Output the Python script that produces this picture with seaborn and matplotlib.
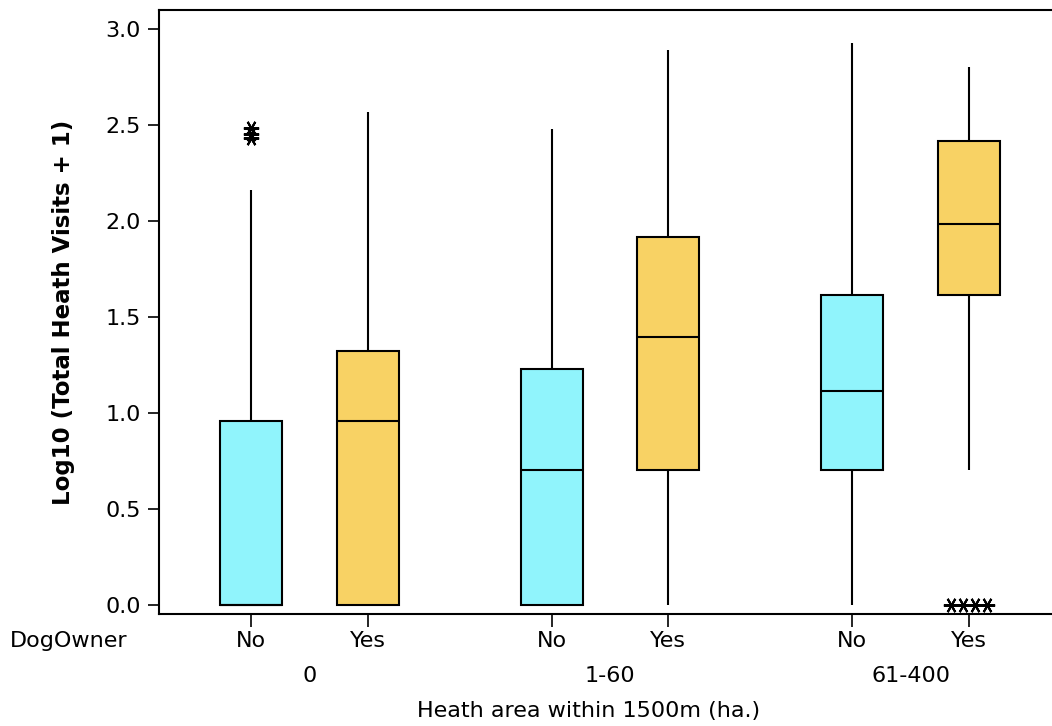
import numpy as np
import pandas as pd
import matplotlib
matplotlib.use("Agg")
import matplotlib.pyplot as plt
import seaborn as sns

# ---- data ----
areas = ["0", "1-60", "61-400"]
owners = ["No", "Yes"]
# order of boxes: (0,No), (0,Yes), (1-60,No), (1-60,Yes), (61-400,No), (61-400,Yes)
whisker_low = [0.0, 0.0, 0.0, 0.0, 0.0, 0.703]
q1_vals = [0.0, 0.0, 0.0, 0.703, 0.703, 1.616]
median_vals = [0.0, 0.958, 0.703, 1.396, 1.115, 1.984]
q3_vals = [0.958, 1.323, 1.231, 1.917, 1.616, 2.418]
whisker_high = [2.161, 2.568, 2.479, 2.890, 2.927, 2.800]
outliers_high = [[2.43, 2.455, 2.484], [], [], [], [], []]
outliers_low = [[], [], [], [], [], [0.0, 0.0, 0.0, 0.0]]
yticks = [0.0, 0.5, 1.0, 1.5, 2.0, 2.5, 3.0]

CYAN = "#90F4FC"
YELLOW = "#F8D264"


def observations(lo, a, m, b, hi, fl, fh):
    """Sample of 41 observations whose quartiles / whiskers / outliers equal the read statistics."""
    n_lo = 5 - len(fl)
    n_hi = 6 - len(fh)
    return list(fl) + [lo] * n_lo + [a] * 10 + [m] * 10 + [b] * 10 + [hi] * n_hi + list(fh)


rows = []
k = 0
for area in areas:
    for owner in owners:
        vals = observations(whisker_low[k], q1_vals[k], median_vals[k], q3_vals[k],
                            whisker_high[k], outliers_low[k], outliers_high[k])
        rows += [(area, owner, v) for v in vals]
        k += 1
df = pd.DataFrame(rows, columns=["area", "owner", "value"])

sns.set_style("ticks")
plt.rcParams["font.family"] = ["DejaVu Sans"]
plt.rcParams["font.size"] = 16
plt.rcParams["text.color"] = "black"
plt.rcParams["axes.labelcolor"] = "black"
plt.rcParams["xtick.color"] = "black"
plt.rcParams["ytick.color"] = "black"

fig = plt.figure(figsize=(10.52, 7.26), dpi=100)
ax = fig.add_axes([159 / 1052, (726 - 614) / 726, 902 / 1052, 604 / 726])

WIDTH = 0.778
GAP = 0.47
sns.boxplot(data=df, x="area", y="value", hue="owner", order=areas, hue_order=owners,
            palette=[CYAN, YELLOW], saturation=1, width=WIDTH, gap=GAP,
            linecolor="black", linewidth=1.5, showfliers=False, showcaps=False,
            whis=1.5, legend=False, ax=ax)

# outliers (tied values drawn side by side)
k = 0
for i, area in enumerate(areas):
    for j, owner in enumerate(owners):
        xc = i + (j - 0.5) * WIDTH / 2
        pts = outliers_low[k] + outliers_high[k]
        uniq = {}
        for v in pts:
            uniq.setdefault(v, 0)
            uniq[v] += 1
        for v, c in uniq.items():
            xs = xc + (np.arange(c) - (c - 1) / 2) * 0.04
            ax.plot(xs, [v] * c, linestyle="none", marker=(6, 2, 90), markersize=11,
                    markeredgewidth=1.5, color="black", clip_on=False, zorder=5)
        k += 1

ax.set_xlim(-0.5, 2.5)
ax.set_ylim(-0.047, 3.099)
ax.set_yticks(yticks)
ax.set_yticklabels([f"{t:.1f}" for t in yticks])

xt = [i + (j - 0.5) * WIDTH / 2 for i in range(len(areas)) for j in range(len(owners))]
ax.set_xticks(xt)
ax.set_xticklabels(owners * len(areas))
ax.tick_params(axis="both", direction="out", length=8, width=1.2, color="black",
               labelsize=16, labelcolor="black")
ax.tick_params(axis="x", length=9, pad=3)
ax.tick_params(axis="y", pad=5)

for s in ["left", "top", "bottom", "right"]:
    ax.spines[s].set_visible(True)
    ax.spines[s].set_linewidth(1.5)
    ax.spines[s].set_color("black")

ax.set_xlabel("")
ax.set_ylabel("Log10 (Total Heath Visits + 1)", fontsize=16.5, fontweight="bold",
              labelpad=22, color="black")

# group labels
for i, area in enumerate(areas):
    ax.annotate(area, xy=(i, 0), xycoords=("data", "axes fraction"),
                xytext=(0, -45), textcoords="offset points", ha="center", va="center",
                fontsize=16, color="black")

fig.text(10 / 1052, 1 - 641 / 726, "DogOwner", ha="left", va="center", fontsize=16,
         color="black")
fig.text(589 / 1052, 1 - 711 / 726, "Heath area within 1500m (ha.)", ha="center",
         va="center", fontsize=16, color="black")

fig.savefig("out.png", dpi=100)
